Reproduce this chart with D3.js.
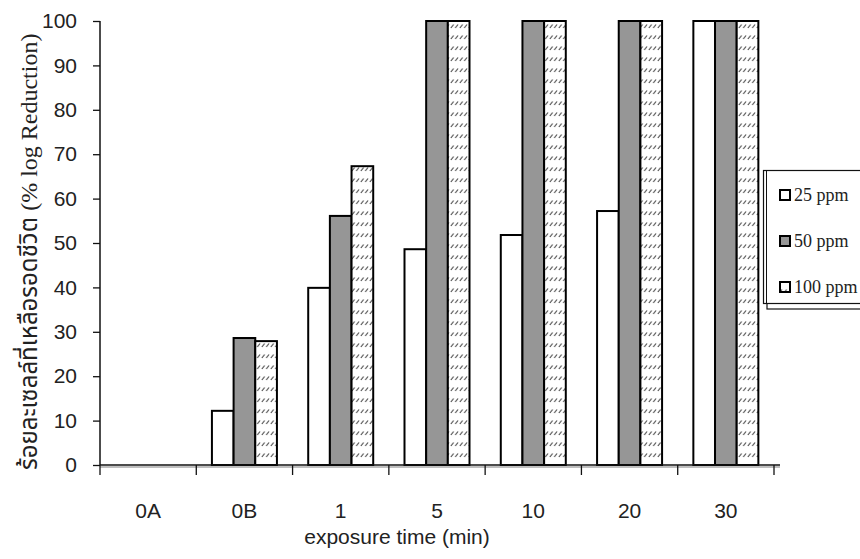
<!DOCTYPE html>
<html>
<head>
<meta charset="utf-8">
<script src="https://cdn.jsdelivr.net/npm/d3@7/dist/d3.min.js"></script>
<style>
  html, body { margin: 0; padding: 0; background: #fff; }
  svg { display: block; }
  .sans { font-family: "Liberation Sans", Arial, sans-serif; }
  .serif { font-family: "Liberation Serif", "Times New Roman", serif; }
</style>
</head>
<body>
<svg id="chart" width="860" height="559"></svg>
<script>
// Exposure time categories and surviving-cell percentages per concentration
const categories = ["0A", "0B", "1", "5", "10", "20", "30"];
const seriesNames = ["25 ppm", "50 ppm", "100 ppm"];
const ppm25  = [0, 12.2, 39.9, 48.6, 51.8, 57.2, 100];
const ppm50  = [0, 28.6, 56.1, 100, 100, 100, 100];
const ppm100 = [0, 27.9, 67.3, 100, 100, 100, 100];
const yTicks = [0, 10, 20, 30, 40, 50, 60, 70, 80, 90, 100];

const seriesValues = [ppm25, ppm50, ppm100];

const svg = d3.select("#chart");
const plotLeft = 100, plotRight = 774, plotTop = 21, plotBottom = 465;

// hatched fill used for the 100 ppm series: short "///" dashes in rows
const defs = svg.append("defs");
const pat = defs.append("pattern")
  .attr("id", "hatch")
  .attr("patternUnits", "userSpaceOnUse")
  .attr("width", 4.5).attr("height", 11);
pat.append("rect").attr("width", 4.5).attr("height", 11).attr("fill", "#fff");
pat.append("line")
  .attr("x1", 0.8).attr("y1", 6).attr("x2", 3.6).attr("y2", 2.5)
  .attr("stroke", "#333").attr("stroke-width", 1);

const fills = ["#ffffff", "#969696", "url(#hatch)"];

const x0 = d3.scaleBand().domain(categories).range([plotLeft, plotRight]).padding(0);
const groupW = 65;
const x1 = d3.scaleBand().domain(seriesNames)
  .range([(x0.bandwidth() - groupW) / 2, (x0.bandwidth() + groupW) / 2]).padding(0);
const y = d3.scaleLinear().domain([0, 100]).range([plotBottom, plotTop]);

// bars
const rows = [];
categories.forEach((c, i) => {
  seriesNames.forEach((s, j) => {
    rows.push({ cat: c, ser: s, idx: j, v: seriesValues[j][i] });
  });
});

svg.append("g").selectAll("rect")
  .data(rows.filter(d => d.v > 0))
  .join("rect")
  .attr("x", d => x0(d.cat) + x1(d.ser))
  .attr("y", d => y(d.v))
  .attr("width", x1.bandwidth())
  .attr("height", d => y(0) - y(d.v))
  .attr("fill", d => fills[d.idx])
  .attr("stroke", "#000")
  .attr("stroke-width", 2);

// x axis (with soft shadow line beneath)
svg.append("line")
  .attr("x1", plotLeft).attr("x2", plotRight + 6)
  .attr("y1", plotBottom + 2).attr("y2", plotBottom + 2)
  .attr("stroke", "#aaa").attr("stroke-width", 1.5);
svg.append("line")
  .attr("x1", plotLeft).attr("x2", plotRight + 6)
  .attr("y1", plotBottom).attr("y2", plotBottom)
  .attr("stroke", "#111").attr("stroke-width", 1.5);

const xTickPos = categories.map(c => x0(c)).concat([plotRight]);
svg.append("g").selectAll("line")
  .data(xTickPos)
  .join("line")
  .attr("x1", d => d).attr("x2", d => d)
  .attr("y1", plotBottom).attr("y2", plotBottom + 10)
  .attr("stroke", "#111").attr("stroke-width", 1.3);

svg.append("g").selectAll("text")
  .data(categories)
  .join("text")
  .attr("class", "sans")
  .attr("x", d => x0(d) + x0.bandwidth() / 2)
  .attr("y", 518)
  .attr("text-anchor", "middle")
  .attr("font-size", 21)
  .attr("fill", "#222")
  .text(d => d);

svg.append("text")
  .attr("class", "sans")
  .attr("x", 397)
  .attr("y", 544)
  .attr("text-anchor", "middle")
  .attr("font-size", 21)
  .attr("fill", "#222")
  .text("exposure time (min)");

// y axis
const yAxis = d3.axisLeft(y).tickValues(yTicks).tickSize(7).tickPadding(16);
const gy = svg.append("g").attr("transform", `translate(${plotLeft},0)`).call(yAxis);
gy.select(".domain").attr("stroke", "#111").attr("stroke-width", 1.5)
  .attr("d", `M0,${plotTop}V${plotBottom}`);
gy.selectAll(".tick line").attr("stroke", "#111").attr("stroke-width", 1.3);
gy.selectAll(".tick text")
  .attr("font-family", "'Liberation Sans', Arial, sans-serif")
  .attr("font-size", 21)
  .attr("fill", "#222");

// y axis title: Thai part in sans, parenthetical part in serif
const yTitle = svg.append("text")
  .attr("transform", "translate(37,470) rotate(-90)")
  .attr("text-anchor", "start")
  .attr("fill", "#222");
yTitle.append("tspan")
  .attr("font-family", "'Noto Sans Thai', Tahoma, 'DejaVu Sans', sans-serif")
  .attr("font-size", 24)
  .text("ร้อยละเซลล์ที่เหลือรอดชีวิต ");
yTitle.append("tspan")
  .attr("font-family", "'Liberation Serif', 'Times New Roman', serif")
  .attr("font-size", 24)
  .text("(% log Reduction)");

// legend
const lg = svg.append("g");
lg.append("rect")
  .attr("x", 767).attr("y", 173).attr("width", 120).attr("height", 136)
  .attr("fill", "#fff").attr("stroke", "#111").attr("stroke-width", 1.2);
lg.append("rect")
  .attr("x", 763.5).attr("y", 170.5).attr("width", 120).attr("height", 133)
  .attr("fill", "#fff").attr("stroke", "#111").attr("stroke-width", 1.2);
lg.append("line")
  .attr("x1", 766.5).attr("x2", 766.5).attr("y1", 170.5).attr("y2", 303.5)
  .attr("stroke", "#111").attr("stroke-width", 1);

const legendY = d3.scalePoint().domain(seriesNames).range([195, 287]);
const items = lg.selectAll("g.item")
  .data(seriesNames)
  .join("g")
  .attr("class", "item")
  .attr("transform", d => `translate(0,${legendY(d)})`);
items.append("rect")
  .attr("x", 780).attr("y", -5).attr("width", 10).attr("height", 10)
  .attr("fill", (d, i) => fills[i])
  .attr("stroke", "#000").attr("stroke-width", 2);
items.append("text")
  .attr("class", "serif")
  .attr("x", 794).attr("y", 6)
  .attr("font-size", 18)
  .attr("fill", "#222")
  .text(d => d);
</script>
</body>
</html>
